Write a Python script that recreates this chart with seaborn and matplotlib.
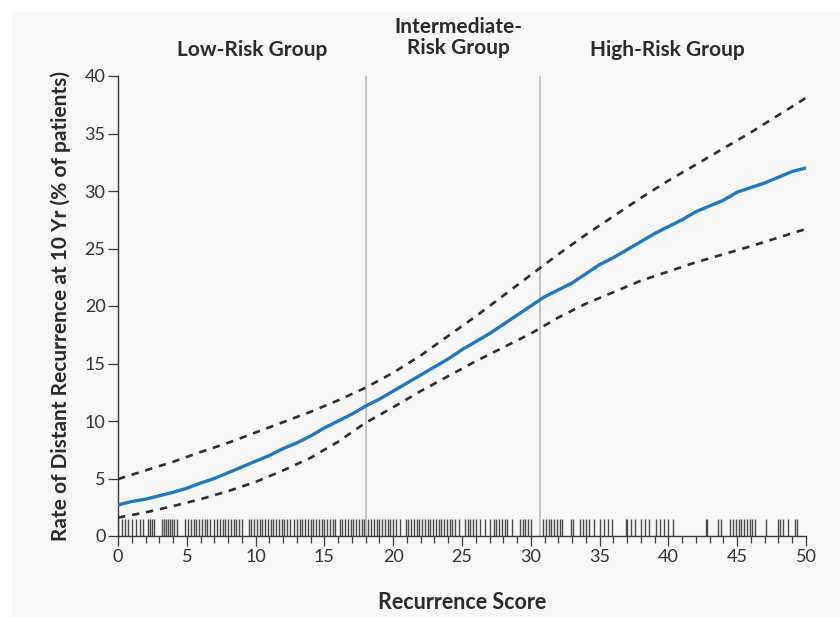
import numpy as np
import pandas as pd
import matplotlib
matplotlib.use("Agg")
import matplotlib.pyplot as plt
from matplotlib.patches import Rectangle
from matplotlib.ticker import MultipleLocator
import seaborn as sns

# ---------------- data ----------------
score = [0, 1, 2, 3, 4, 5, 6, 7, 8, 9, 10, 11, 12, 13, 14, 15, 16, 17, 18, 19, 20,
         21, 22, 23, 24, 25, 26, 27, 28, 29, 30, 31, 32, 33, 34, 35, 36, 37, 38, 39, 40,
         41, 42, 43, 44, 45, 46, 47, 48, 49, 50]
rate = [2.7, 3.0, 3.2, 3.5, 3.8, 4.15, 4.6, 5.0, 5.5, 6.0, 6.5, 7.0, 7.6, 8.1, 8.7, 9.4,
        10.0, 10.6, 11.3, 11.9, 12.6, 13.3, 14.0, 14.7, 15.4, 16.2, 16.9, 17.6, 18.4, 19.2,
        20.0, 20.8, 21.4, 22.0, 22.8, 23.6, 24.2, 24.9, 25.6, 26.3, 26.9, 27.5, 28.2, 28.7,
        29.2, 29.9, 30.3, 30.7, 31.2, 31.7, 32.0]

ci_score = [0, 2, 4, 6, 8, 10, 12, 14, 16, 18, 20, 22, 24, 26, 28, 30, 32, 34, 36, 38,
            40, 42, 44, 46, 48, 50]
ci_upper = [4.95, 5.7, 6.45, 7.3, 8.1, 9.0, 9.9, 10.8, 11.8, 12.9, 14.2, 15.7, 17.4, 19.1,
            20.9, 22.7, 24.5, 26.2, 27.8, 29.4, 30.9, 32.3, 33.7, 35.1, 36.6, 38.1]
ci_lower = [1.6, 2.05, 2.6, 3.2, 3.9, 4.7, 5.7, 6.8, 8.2, 9.85, 11.2, 12.6, 13.9, 15.2,
            16.4, 17.6, 19.0, 20.2, 21.2, 22.2, 23.0, 23.8, 24.5, 25.2, 25.95, 26.7]

rug_scores = [
    0.0, 0.3, 0.5, 0.75, 1.05, 1.3, 1.6, 1.8,
    2.2, 2.35, 2.5, 2.65,
    3.2, 3.35, 3.5, 3.65, 3.8, 3.95, 4.1, 4.3,
    4.9, 5.1, 5.3, 5.5, 5.7, 5.9, 6.1, 6.3, 6.5, 6.7,
    7.0, 7.2, 7.4, 7.6, 7.8, 8.0, 8.2, 8.4, 8.6, 8.8, 9.0,
    9.5, 9.7, 9.9, 10.1, 10.3, 10.5, 10.7, 10.9, 11.1, 11.3, 11.5, 11.7, 11.9, 12.1, 12.3, 12.5,
    12.8, 13.0, 13.2, 13.4, 13.6, 13.8, 14.0, 14.2, 14.4, 14.6, 14.8, 15.0, 15.2, 15.4, 15.6, 15.8,
    16.1, 16.3, 16.5, 16.7, 16.9, 17.1, 17.3, 17.5, 17.7, 17.9,
    18.2, 18.4, 18.6, 18.8, 19.0, 19.2, 19.4, 19.6, 19.8, 20.0, 20.2, 20.5,
    20.9, 21.1, 21.3, 21.5, 21.7, 21.9, 22.1, 22.3, 22.5, 22.7, 22.9,
    23.1, 23.3, 23.5, 23.7, 23.9, 24.1, 24.3, 24.5, 24.8,
    25.2, 25.4, 25.6, 25.8, 26.0,
    26.3, 26.7, 27.0, 27.3, 27.5, 27.7, 27.9, 28.1, 28.3, 28.6,
    29.2, 29.4, 29.6, 29.8, 30.0,
    30.9, 31.1, 31.3, 31.5, 31.7, 31.9, 32.1, 32.3,
    32.9, 33.1, 33.6, 33.8, 34.0, 34.2, 34.6, 35.0, 35.3, 35.6, 35.9,
    36.9, 37.0, 37.3, 37.6, 38.0, 38.3, 38.6, 39.1, 39.4, 39.7, 40.0, 40.3,
    42.7, 42.8, 43.6, 43.8, 44.5, 44.7, 44.9, 45.1, 45.3, 45.5, 45.7, 45.9, 46.1, 46.3,
    47.1, 48.0, 48.1, 48.3, 48.7, 49.2, 49.35,
]

cutoffs = [18, 30.7]
group_labels = ["Low-Risk Group", "Intermediate-\nRisk Group", "High-Risk Group"]
group_label_x = [9.74, 24.76, 39.9]

x_label = "Recurrence Score"
y_label = "Rate of Distant Recurrence at 10 Yr (% of patients)"

# ---------------- style ----------------
sns.set_theme(style="white")
plt.rcParams["font.family"] = ["Lato", "DejaVu Sans"]

BG = "#f7f7f7"
INK = "#3a3a3a"
BLUE = "#2377bd"

fig = plt.figure(figsize=(8.40, 6.17), dpi=100, facecolor="white")
fig.patches.append(Rectangle((12 / 840, 0), 1 - 12 / 840, 1 - 12 / 617,
                             transform=fig.transFigure, facecolor=BG,
                             edgecolor="none", zorder=-10))
ax = fig.add_axes([118 / 840, (617 - 536) / 617, (806 - 118) / 840, (536 - 76) / 617])
ax.set_facecolor(BG)

main_df = pd.DataFrame({"score": score, "rate": rate})
ci_df = pd.DataFrame({"score": ci_score, "upper": ci_upper, "lower": ci_lower})

for c in cutoffs:
    ax.axvline(c, ymin=0, ymax=1, color="#b5b5b5", lw=1.1, zorder=1)

sns.lineplot(data=ci_df, x="score", y="upper", ax=ax, color="#2e2e2e", lw=1.9,
             linestyle=(0, (2.8, 2.6)), zorder=3)
sns.lineplot(data=ci_df, x="score", y="lower", ax=ax, color="#2e2e2e", lw=1.9,
             linestyle=(0, (2.8, 2.6)), zorder=3)
sns.lineplot(data=main_df, x="score", y="rate", ax=ax, color=BLUE, lw=2.4,
             zorder=4)

sns.rugplot(x=rug_scores, ax=ax, height=1.45 / 40, color="#4a4a4a", lw=0.9,
            expand_margins=False, zorder=2)

ax.set_xlim(0, 50)
ax.set_ylim(0, 40)
ax.xaxis.set_major_locator(MultipleLocator(5))
ax.xaxis.set_minor_locator(MultipleLocator(1))
ax.yaxis.set_major_locator(MultipleLocator(5))

for s in ["top", "right"]:
    ax.spines[s].set_visible(False)
for s in ["left", "bottom"]:
    ax.spines[s].set_color(INK)
    ax.spines[s].set_linewidth(1.0)

ax.tick_params(axis="both", which="major", direction="out", length=7, width=0.9,
               color=INK, labelsize=13, labelcolor="#333333", pad=2,
               bottom=True, left=True)
ax.tick_params(axis="x", which="minor", direction="out", length=5, width=0.9,
               color=INK, bottom=True)

ax.set_xlabel(x_label, fontsize=15.5, fontweight="bold", color="#2a2a2a", labelpad=20)
ax.set_ylabel(y_label, fontsize=15, fontweight="bold", color="#2a2a2a", labelpad=10)

ax.text(group_label_x[0], 42.26, group_labels[0], ha="center", va="center",
        fontsize=15, fontweight="bold", color="#2a2a2a", clip_on=False)
ax.text(group_label_x[1], 43.35, group_labels[1], ha="center", va="center",
        fontsize=15, fontweight="bold", color="#2a2a2a", clip_on=False,
        linespacing=1.1, multialignment="center")
ax.text(group_label_x[2], 42.26, group_labels[2], ha="center", va="center",
        fontsize=15, fontweight="bold", color="#2a2a2a", clip_on=False)

fig.savefig("out.png", dpi=100, facecolor=fig.get_facecolor())
